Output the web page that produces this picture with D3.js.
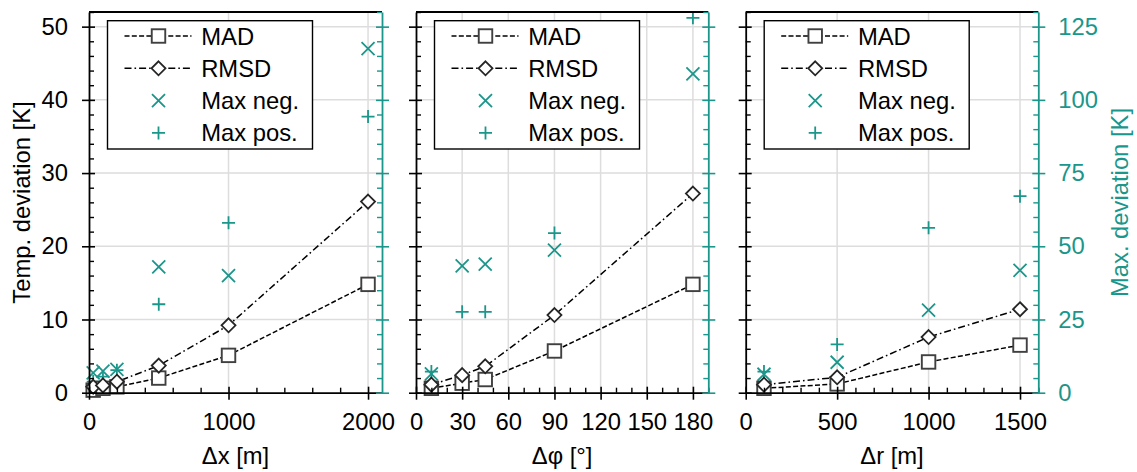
<!DOCTYPE html>
<html>
<head>
<meta charset="utf-8">
<script src="https://cdn.jsdelivr.net/npm/d3@7/dist/d3.min.js"></script>
<style>
  html, body { margin: 0; padding: 0; background: #fff; }
  svg { display: block; font-family: "Liberation Sans", Arial, sans-serif; }
</style>
</head>
<body>
<svg id="chart" width="1137" height="472"></svg>
<script>
// ---------- data ----------
const dxValues   = [30, 100, 200, 500, 1000, 2000];
const dxMAD      = [0.35, 0.6, 0.8, 2.0, 5.1, 14.8];
const dxRMSD     = [0.8, 1.0, 1.5, 3.7, 9.2, 26.1];
const dxMaxNeg   = [6.8, 7.4, 8.0, 43.0, 40.0, 117.5];
const dxMaxPos   = [3.8, 5.5, 7.7, 30.2, 58.0, 94.3];

const dphiValues = [10, 30, 45, 90, 180];
const dphiMAD    = [0.6, 1.3, 1.8, 5.7, 14.8];
const dphiRMSD   = [1.1, 2.4, 3.6, 10.6, 27.2];
const dphiMaxNeg = [6.4, 43.3, 43.9, 48.7, 108.9];
const dphiMaxPos = [7.2, 27.6, 27.6, 54.5, 128.0];

const drValues   = [100, 500, 1000, 1500];
const drMAD      = [0.6, 1.2, 4.2, 6.5];
const drRMSD     = [1.1, 2.1, 7.6, 11.4];
const drMaxNeg   = [6.3, 10.4, 28.2, 41.8];
const drMaxPos   = [7.2, 16.5, 56.3, 67.1];

const dxTicks    = [0, 1000, 2000];
const dphiTicks  = [0, 30, 60, 90, 120, 150, 180];
const drTicks    = [0, 500, 1000, 1500];
const leftTicks  = [0, 10, 20, 30, 40, 50];
const rightTicks = [0, 25, 50, 75, 100, 125];

const legendLabels = ["MAD", "RMSD", "Max neg.", "Max pos."];
const xTitles = ["Δx [m]", "Δφ [°]", "Δr [m]"];
const leftTitle = "Temp. deviation [K]";
const rightTitle = "Max. deviation [K]";

// ---------- layout ----------
const teal = "#1b968b";
const gridColor = "#dddddd";
const fs = 23.8;
const plotTop = 12, plotBottom = 392.7;
const svg = d3.select("#chart");

const panels = [
  { x0: 89,    x1: 382,    domain: [0, 2100], ticks: dxTicks,   minorStep: 200,
    xs: dxValues, mad: dxMAD, rmsd: dxRMSD, neg: dxMaxNeg, pos: dxMaxPos, title: xTitles[0] },
  { x0: 416,   x1: 708.3,  domain: [0, 190],  ticks: dphiTicks, minorStep: 10,
    xs: dphiValues, mad: dphiMAD, rmsd: dphiRMSD, neg: dphiMaxNeg, pos: dphiMaxPos, title: xTitles[1] },
  { x0: 745.7, x1: 1038.3, domain: [0, 1600], ticks: drTicks,   minorStep: 100,
    xs: drValues, mad: drMAD, rmsd: drRMSD, neg: drMaxNeg, pos: drMaxPos, title: xTitles[2] }
];

const y  = d3.scaleLinear().domain([0, 52]).range([plotBottom, plotTop]);
const y2 = d3.scaleLinear().domain([0, 130]).range([plotBottom, plotTop]);
const leftMinor  = d3.range(0, 52.01, 2).filter(v => v % 10 !== 0);
const rightMinor = d3.range(0, 130.01, 5).filter(v => v % 25 !== 0);

const sqSize = 13.5, dmHalf = 7, mkHalf = 6.5;
const madDash = "5,2.3";
const rmsdDash = "7,3,1.6,3";
const fontFam = "Liberation Sans, Arial, sans-serif";

function drawSquare(g, cx, cy) {
  g.append("rect").attr("x", cx - sqSize/2).attr("y", cy - sqSize/2)
    .attr("width", sqSize).attr("height", sqSize)
    .attr("fill", "#fff").attr("stroke", "#404040").attr("stroke-width", 1.9);
}
function drawDiamond(g, cx, cy) {
  g.append("path").attr("d", `M${cx},${cy-dmHalf}L${cx+dmHalf},${cy}L${cx},${cy+dmHalf}L${cx-dmHalf},${cy}Z`)
    .attr("fill", "#fff").attr("stroke", "#262626").attr("stroke-width", 1.8);
}
function drawX(g, cx, cy) {
  g.append("path").attr("d", `M${cx-mkHalf},${cy-mkHalf}L${cx+mkHalf},${cy+mkHalf}M${cx-mkHalf},${cy+mkHalf}L${cx+mkHalf},${cy-mkHalf}`)
    .attr("fill", "none").attr("stroke", teal).attr("stroke-width", 1.8);
}
function drawPlus(g, cx, cy) {
  g.append("path").attr("d", `M${cx-mkHalf},${cy}L${cx+mkHalf},${cy}M${cx},${cy-mkHalf}L${cx},${cy+mkHalf}`)
    .attr("fill", "none").attr("stroke", teal).attr("stroke-width", 1.8);
}

panels.forEach((p, pi) => {
  const x = d3.scaleLinear().domain(p.domain).range([p.x0, p.x1]);
  const g = svg.append("g");
  const xMinor = d3.range(0, p.domain[1] + 0.01, p.minorStep).filter(v => !p.ticks.includes(v));

  // grid
  g.append("g").selectAll("line").data(p.ticks.filter(v => v > 0)).join("line")
    .attr("x1", d => x(d)).attr("x2", d => x(d)).attr("y1", plotTop).attr("y2", plotBottom)
    .attr("stroke", gridColor).attr("stroke-width", 1.5);
  g.append("g").selectAll("line").data(leftTicks.filter(v => v > 0)).join("line")
    .attr("x1", p.x0).attr("x2", p.x1).attr("y1", d => y(d)).attr("y2", d => y(d))
    .attr("stroke", gridColor).attr("stroke-width", 1.5);

  // lines
  const pts = (arr, sc) => p.xs.map((v, i) => [x(v), sc(arr[i])]);
  const line = d3.line();
  g.append("path").attr("d", line(pts(p.mad, y))).attr("fill", "none")
    .attr("stroke", "#000").attr("stroke-width", 1.5).attr("stroke-dasharray", madDash);
  g.append("path").attr("d", line(pts(p.rmsd, y))).attr("fill", "none")
    .attr("stroke", "#000").attr("stroke-width", 1.5).attr("stroke-dasharray", rmsdDash);

  // markers
  const mk = g.append("g");
  p.xs.forEach((v, i) => drawX(mk, x(v), y2(p.neg[i])));
  p.xs.forEach((v, i) => drawPlus(mk, x(v), y2(p.pos[i])));
  p.xs.forEach((v, i) => drawSquare(mk, x(v), y(p.mad[i])));
  p.xs.forEach((v, i) => drawDiamond(mk, x(v), y(p.rmsd[i])));

  // top spine
  g.append("line").attr("x1", p.x0).attr("x2", p.x1).attr("y1", plotTop).attr("y2", plotTop)
    .attr("stroke", "#000").attr("stroke-width", 1.8);

  // bottom axis
  const bx = g.append("g").attr("transform", `translate(0,${plotBottom})`)
    .call(d3.axisBottom(x).tickValues(p.ticks).tickSize(7).tickSizeOuter(0).tickPadding(13).tickFormat(d3.format("d")));
  bx.selectAll(".tick line").attr("y1", -6).attr("stroke-width", 1.6);
  bx.select(".domain").attr("stroke-width", 1.8);
  bx.selectAll("text").attr("font-size", fs).attr("font-family", fontFam).attr("fill", "#000");
  const bxm = g.append("g").attr("transform", `translate(0,${plotBottom})`)
    .call(d3.axisBottom(x).tickValues(xMinor).tickSize(-5).tickFormat(""));
  bxm.select(".domain").remove();
  bxm.selectAll(".tick line").attr("stroke-width", 1.4);

  // left axis
  const lx = g.append("g").attr("transform", `translate(${p.x0},0)`)
    .call(d3.axisLeft(y).tickValues(leftTicks).tickSize(7).tickSizeOuter(0).tickPadding(14)
      .tickFormat(pi === 0 ? d3.format("d") : ""));
  lx.selectAll(".tick line").attr("x1", 6).attr("stroke-width", 1.6);
  lx.select(".domain").attr("stroke-width", 1.8);
  lx.selectAll("text").attr("font-size", fs).attr("font-family", fontFam).attr("fill", "#000");
  const lxm = g.append("g").attr("transform", `translate(${p.x0},0)`)
    .call(d3.axisLeft(y).tickValues(leftMinor).tickSize(-5).tickFormat(""));
  lxm.select(".domain").remove();
  lxm.selectAll(".tick line").attr("stroke-width", 1.4);

  // right axis (teal)
  const rx = g.append("g").attr("transform", `translate(${p.x1},0)`)
    .call(d3.axisRight(y2).tickValues(rightTicks).tickSize(7).tickSizeOuter(0).tickPadding(13)
      .tickFormat(pi === 2 ? d3.format("d") : ""));
  rx.selectAll(".tick line").attr("x1", -6).attr("stroke", teal).attr("stroke-width", 1.6);
  rx.select(".domain").attr("stroke", teal).attr("stroke-width", 1.8);
  rx.selectAll("text").attr("font-size", fs).attr("font-family", fontFam).attr("fill", teal);
  const rxm = g.append("g").attr("transform", `translate(${p.x1},0)`)
    .call(d3.axisRight(y2).tickValues(rightMinor).tickSize(-5).tickFormat(""));
  rxm.select(".domain").remove();
  rxm.selectAll(".tick line").attr("stroke", teal).attr("stroke-width", 1.4);

  // x title
  g.append("text").attr("x", (p.x0 + p.x1) / 2).attr("y", 463.5)
    .attr("text-anchor", "middle").attr("font-size", fs).text(p.title);

  // legend
  const lg = g.append("g").attr("transform", `translate(${p.x0 + 18.5},20.7)`);
  lg.append("rect").attr("width", 205).attr("height", 128.3)
    .attr("fill", "#fff").attr("stroke", "#000").attr("stroke-width", 1.4);
  const rows = [15.3, 47.6, 79.9, 112.2];
  lg.append("line").attr("x1", 17).attr("x2", 84).attr("y1", rows[0]).attr("y2", rows[0])
    .attr("stroke", "#000").attr("stroke-width", 1.5).attr("stroke-dasharray", madDash);
  drawSquare(lg, 51, rows[0]);
  lg.append("line").attr("x1", 17).attr("x2", 84).attr("y1", rows[1]).attr("y2", rows[1])
    .attr("stroke", "#000").attr("stroke-width", 1.5).attr("stroke-dasharray", rmsdDash);
  drawDiamond(lg, 51, rows[1]);
  drawX(lg, 51, rows[2]);
  drawPlus(lg, 51, rows[3]);
  legendLabels.forEach((t, i) => {
    lg.append("text").attr("x", 93.7).attr("y", rows[i]).attr("dy", "0.36em")
      .attr("font-size", fs).text(t);
  });
});

// y titles
svg.append("text").attr("transform", "translate(30,202.5) rotate(-90)")
  .attr("text-anchor", "middle").attr("font-size", fs).text(leftTitle);
svg.append("text").attr("transform", "translate(1128,202.5) rotate(-90)")
  .attr("text-anchor", "middle").attr("font-size", fs).attr("fill", teal).text(rightTitle);
</script>
</body>
</html>
